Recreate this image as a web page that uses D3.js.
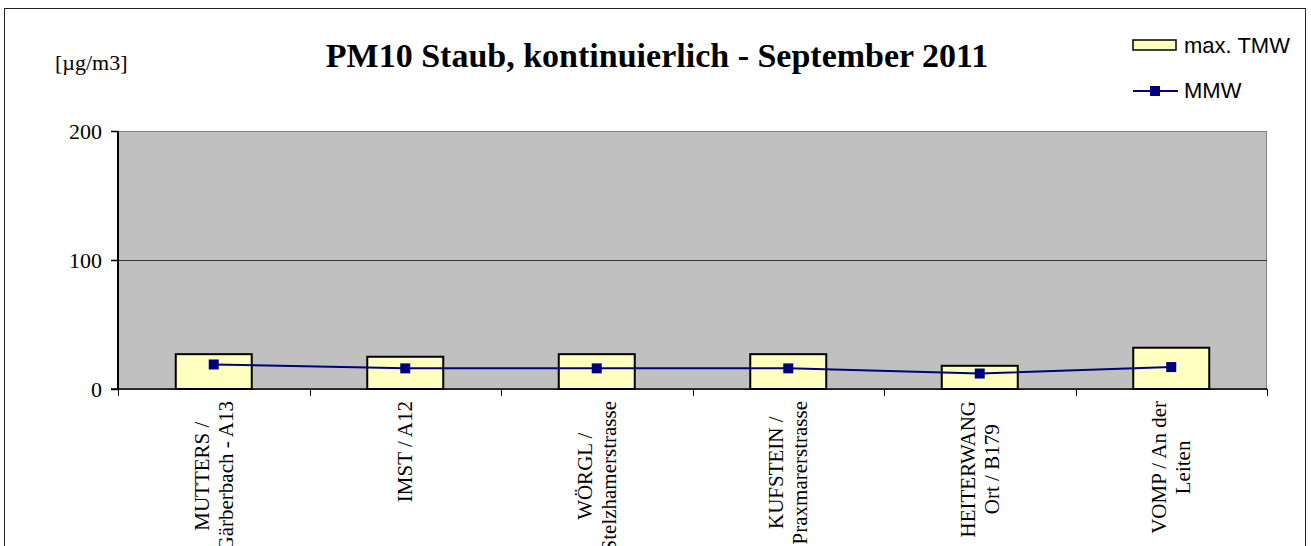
<!DOCTYPE html>
<html>
<head>
<meta charset="utf-8">
<script src="https://cdn.jsdelivr.net/npm/d3@7"></script>
<style>
  body { margin: 0; background: #fff; }
  svg { display: block; }
</style>
</head>
<body>
<div id="chart"></div>
<script>
var w = 1311, h = 546;

var categories = [
  ["MUTTERS /", "Gärberbach - A13"],
  ["IMST / A12"],
  ["WÖRGL /", "Stelzhamerstrasse"],
  ["KUFSTEIN /", "Praxmarerstrasse"],
  ["HEITERWANG", "Ort / B179"],
  ["VOMP / An der", "Leiten"]
];
var maxTMW = [27, 25, 27, 27, 18, 32];
var mmw = [19, 16, 16, 16, 12, 17];
var yTicks = [0, 100, 200];

var barC = "#ffffc0";
var lineC = "#000080";
var plotC = "#c0c0c0";
var serif = "'Liberation Serif', 'Times New Roman', serif";
var sans = "'Liberation Sans', Arial, sans-serif";

var pLeft = 118, pRight = 1267, pTop = 131, pBottom = 389;

var svg = d3.select("#chart")
  .append("svg")
  .attr("width", w)
  .attr("height", h);

// chart border
svg.append("rect")
  .attr("x", 4.5).attr("y", 8.5)
  .attr("width", 1301).attr("height", 560)
  .style("fill", "white")
  .style("stroke", "#222")
  .style("stroke-width", 1);

var xb = d3.scaleBand()
  .domain(d3.range(categories.length))
  .range([pLeft, pRight]);

var y = d3.scaleLinear()
  .domain([0, 200])
  .range([pBottom, pTop]);

// plot area
svg.append("rect")
  .attr("x", pLeft).attr("y", pTop + 0.5)
  .attr("width", pRight - pLeft - 0.5).attr("height", pBottom - pTop)
  .style("fill", plotC)
  .style("stroke", "#808080");

// gridlines
svg.selectAll(".grid")
  .data(yTicks.filter(function(d) { return d > 0; }))
  .enter()
  .append("path")
  .attr("d", function(d) {
    return "M" + pLeft + "," + (Math.round(y(d)) + 0.5) + " H" + pRight;
  })
  .style("stroke", function(d) { return d === 200 ? "#808080" : "#333"; })
  .style("stroke-width", 1);

// bars
svg.selectAll(".bar")
  .data(maxTMW)
  .enter()
  .append("rect")
  .attr("x", function(d, i) { return xb(i) + xb.bandwidth() / 2 - 38; })
  .attr("y", function(d) { return y(d); })
  .attr("width", 76)
  .attr("height", function(d) { return pBottom - y(d); })
  .style("fill", barC)
  .style("stroke", "black")
  .style("stroke-width", 2);

// y axis
var yAxis = d3.axisLeft(y)
  .tickValues(yTicks)
  .tickSize(7)
  .tickPadding(9);
var ya = svg.append("g")
  .attr("transform", "translate(" + pLeft + ",0)")
  .call(yAxis);
ya.select(".domain").style("stroke", "black").style("stroke-width", 2)
  .attr("d", "M0," + pTop + "V" + pBottom);
ya.selectAll(".tick line").style("stroke", "black").style("stroke-width", 1.5);
ya.selectAll(".tick text")
  .style("font-family", serif)
  .style("font-size", "22px")
  .style("fill", "black");

// x axis line and ticks at band edges
svg.append("path")
  .attr("d", "M" + (pLeft - 7) + "," + pBottom + " H" + pRight)
  .style("stroke", "black")
  .style("stroke-width", 1.5);
svg.selectAll(".xtick")
  .data(d3.range(categories.length + 1))
  .enter()
  .append("path")
  .attr("d", function(d) {
    var xx = Math.round(pLeft + d * xb.step()) + 0.5;
    return "M" + xx + "," + pBottom + " v 7";
  })
  .style("stroke", "black")
  .style("stroke-width", 1);

// MMW line
var line = d3.line()
  .x(function(d, i) { return xb(i) + xb.bandwidth() / 2; })
  .y(function(d) { return y(d); });
svg.append("path")
  .datum(mmw)
  .attr("d", line)
  .style("fill", "none")
  .style("stroke", lineC)
  .style("stroke-width", 2);
svg.selectAll(".pt")
  .data(mmw)
  .enter()
  .append("rect")
  .attr("x", function(d, i) { return xb(i) + xb.bandwidth() / 2 - 5; })
  .attr("y", function(d) { return y(d) - 5; })
  .attr("width", 10)
  .attr("height", 10)
  .style("fill", lineC);

// category labels, rotated
var lab = svg.selectAll(".lab")
  .data(categories)
  .enter()
  .append("g")
  .attr("class", "lab");
lab.each(function(lines, i) {
  var g = d3.select(this);
  var cx = xb(i) + xb.bandwidth() / 2;
  var lh = 24;
  var n = lines.length;
  var texts = lines.map(function(s) {
    return g.append("text")
      .text(s)
      .style("font-family", serif)
      .style("font-size", "21px")
      .style("fill", "black")
      .attr("text-anchor", "middle");
  });
  var maxW = d3.max(texts, function(t) { return t.node().getComputedTextLength(); });
  var cy = 401 + maxW / 2;
  texts.forEach(function(t, k) {
    var xx = cx + (k - (n - 1) / 2) * lh + 7;
    t.attr("transform", "translate(" + xx + "," + cy + ") rotate(-90)");
  });
});

// title
svg.append("text")
  .attr("x", 657)
  .attr("y", 67)
  .attr("text-anchor", "middle")
  .style("font-family", serif)
  .style("font-weight", "bold")
  .style("font-size", "34px")
  .text("PM10 Staub, kontinuierlich - September 2011");

// unit
svg.append("text")
  .attr("x", 55)
  .attr("y", 70)
  .style("font-family", serif)
  .style("font-size", "22px")
  .text("[µg/m3]");

// legend
var leg = svg.append("g");
leg.append("rect")
  .attr("x", 1133).attr("y", 40)
  .attr("width", 43).attr("height", 10)
  .style("fill", barC)
  .style("stroke", "black")
  .style("stroke-width", 1.5);
leg.append("text")
  .attr("x", 1184).attr("y", 53)
  .style("font-family", sans)
  .style("font-size", "22px")
  .text("max. TMW");
leg.append("path")
  .attr("d", "M1133,91 H1178")
  .style("stroke", lineC)
  .style("stroke-width", 2);
leg.append("rect")
  .attr("x", 1150).attr("y", 86)
  .attr("width", 10).attr("height", 10)
  .style("fill", lineC);
leg.append("text")
  .attr("x", 1184).attr("y", 98)
  .style("font-family", sans)
  .style("font-size", "22px")
  .text("MMW");
</script>
</body>
</html>
